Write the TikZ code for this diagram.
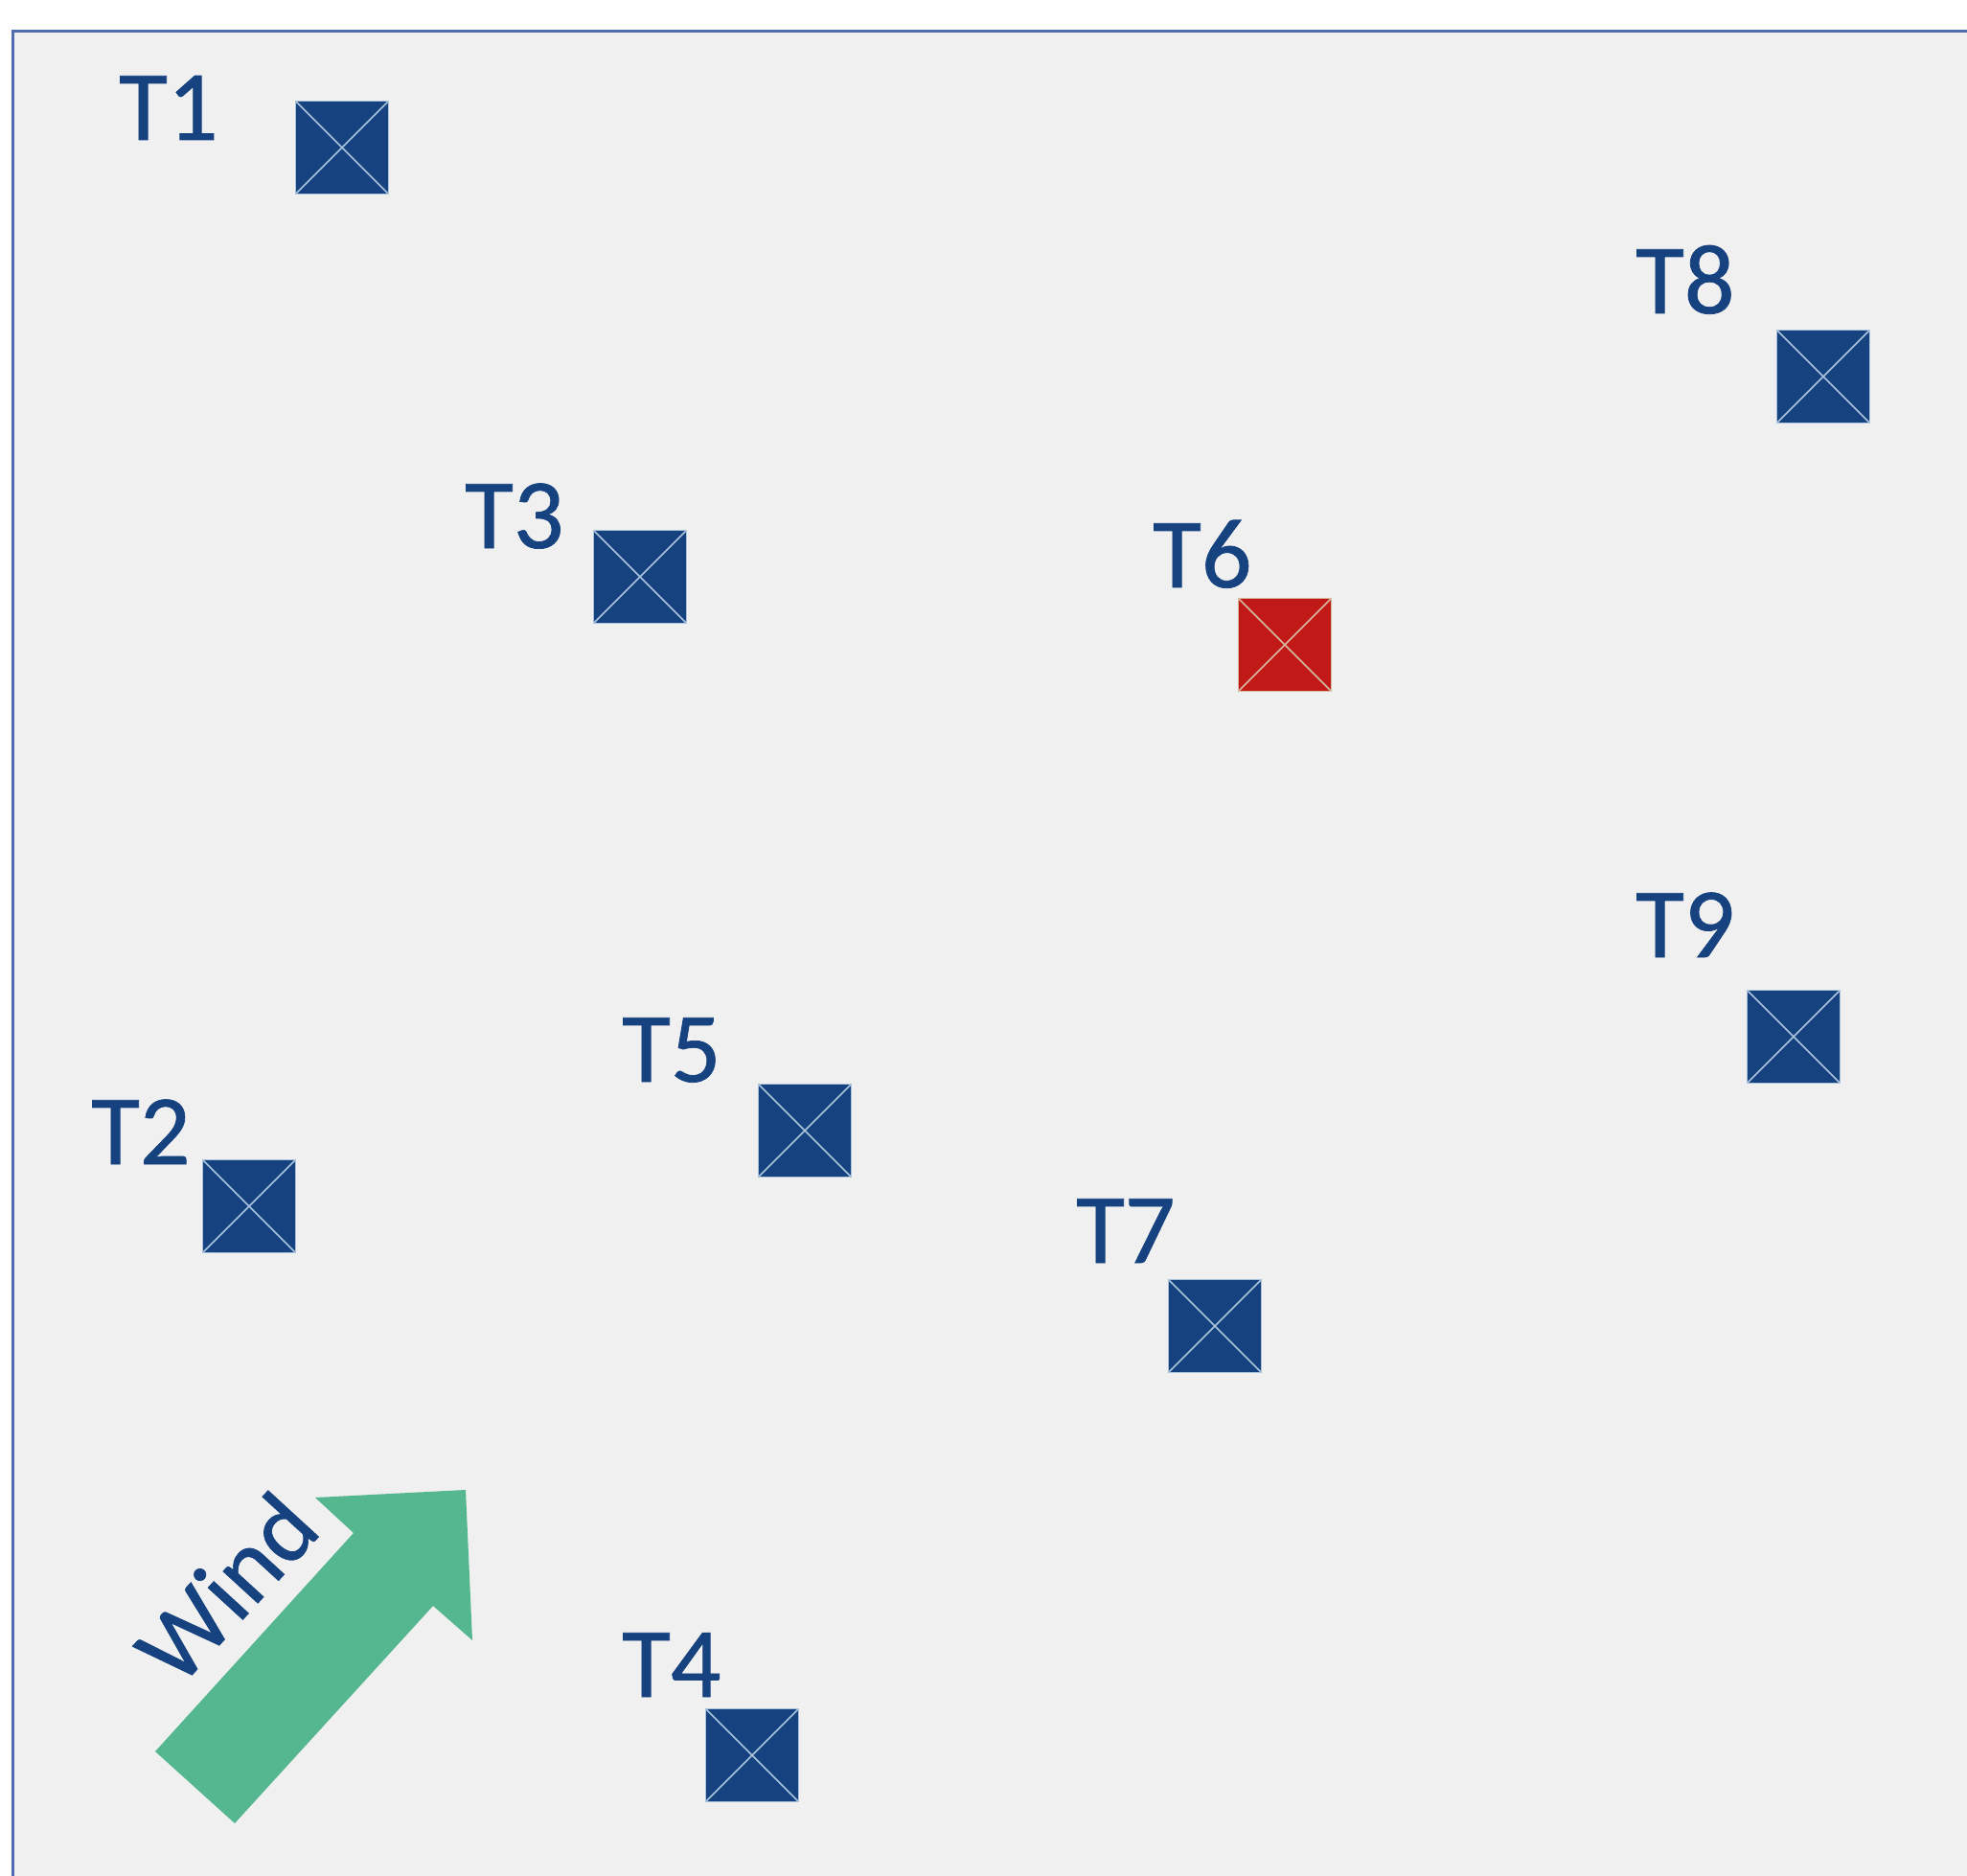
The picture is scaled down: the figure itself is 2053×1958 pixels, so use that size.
\documentclass[tikz,border=0pt]{standalone}
\usepackage{fontspec}
\setmainfont{Carlito}
\newfontfamily\labfont{Carlito}[FakeBold=0.7]
\definecolor{bgc}{RGB}{240,240,240}
\definecolor{framec}{RGB}{80,110,175}
\definecolor{tblue}{RGB}{22,66,128}
\definecolor{tred}{RGB}{193,24,24}
\definecolor{crossc}{RGB}{170,195,220}
\definecolor{crossr}{RGB}{215,185,160}
\definecolor{windc}{RGB}{85,183,143}
\begin{document}
\begin{tikzpicture}[x=1pt,y=-1pt,
  tsq/.style={draw=crossc, line width=1.5pt, fill=tblue, minimum size=97pt, inner sep=0pt,
    path picture={\draw[crossc, line width=1.5pt] (path picture bounding box.north west) -- (path picture bounding box.south east)
      (path picture bounding box.north east) -- (path picture bounding box.south west);}},
  rsq/.style={tsq, draw=crossr, fill=tred,
    path picture={\draw[crossr, line width=1.5pt] (path picture bounding box.north west) -- (path picture bounding box.south east)
      (path picture bounding box.north east) -- (path picture bounding box.south west);}},
  tlab/.style={anchor=base west, inner sep=0pt, text=tblue, font=\labfont\fontsize{104}{120}\selectfont}]
\useasboundingbox (0,0) rectangle (2053,1958);
\fill[white] (0,0) rectangle (2053,1958);
\fill[bgc] (13,33) rectangle (2070,1975);
\draw[framec, line width=3pt] (13,1975) -- (13,33) -- (2070,33);
% turbines
\node[tsq] (T1) at (357,154) {};
\node[tsq] (T8) at (1903,393) {};
\node[tsq] (T3) at (668,602) {};
\node[rsq] (T6) at (1341,673) {};
\node[tsq] (T9) at (1872,1082) {};
\node[tsq] (T5) at (840,1180) {};
\node[tsq] (T2) at (260,1259) {};
\node[tsq] (T7) at (1268,1384) {};
\node[tsq] (T4) at (785,1832) {};
% labels
\node[tlab] (l1) at (124,146) {T1};
\node[tlab] (l8) at (1707,327) {T8};
\node[tlab] (l3) at (485,572) {T3};
\node[tlab] (l6) at (1203,613) {T6};
\node[tlab] (l9) at (1707,999) {T9};
\node[tlab] (l5) at (649,1129) {T5};
\node[tlab] (l2) at (95,1215) {T2};
\node[tlab] (l7) at (1123,1318) {T7};
\node[tlab] (l4) at (649,1771) {T4};
% wind arrow
\fill[windc] (162,1828) -- (369,1600) -- (329,1563) -- (486,1555) -- (493,1712) -- (452,1676) -- (245,1903) -- cycle;
\node[anchor=base, inner sep=0pt, text=tblue, font=\labfont\fontsize{103}{110}\selectfont, rotate=47.5] (wind) at (262,1681) {Wind};
\end{tikzpicture}
\end{document}
